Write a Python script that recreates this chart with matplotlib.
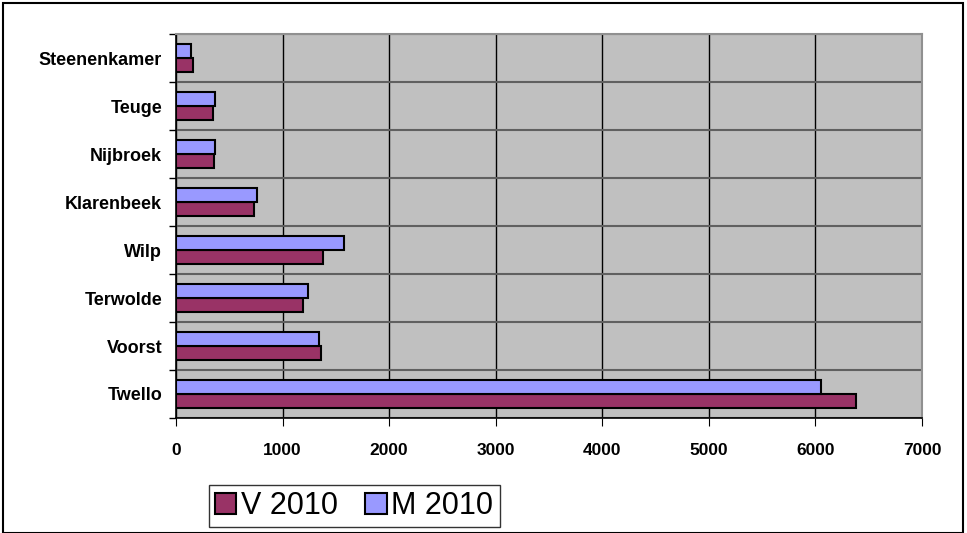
import matplotlib.pyplot as plt
import numpy as np
from matplotlib.patches import Rectangle

plt.rcParams['font.family'] = ['Liberation Sans', 'DejaVu Sans']

places = ["Twello", "Voorst", "Terwolde", "Wilp", "Klarenbeek", "Nijbroek", "Teuge", "Steenenkamer"]
v2010 = [6380, 1360, 1190, 1380, 730, 355, 345, 160]
m2010 = [6050, 1340, 1240, 1575, 760, 365, 365, 140]

fig = plt.figure(figsize=(9.67, 5.33), dpi=100)
ax = fig.add_axes([0.182, 0.2158, 0.7715, 0.7202])
ax.set_facecolor("#C0C0C0")

y = np.arange(len(places))
h = 0.29
ax.barh(y - h / 2, v2010, height=h, color="#993366", edgecolor="black", linewidth=1.5, label="V 2010", zorder=3)
ax.barh(y + h / 2, m2010, height=h, color="#9999FF", edgecolor="black", linewidth=1.5, label="M 2010", zorder=3)

ax.set_xlim(0, 7000)
ax.set_ylim(-0.5, len(places) - 0.5)
ax.set_xticks(np.arange(0, 7001, 1000))
ax.set_yticks(y)
ax.set_yticklabels(places, fontsize=13, fontweight="bold")
ax.set_yticks(np.arange(-0.5, len(places), 1), minor=True)
ax.tick_params(axis="y", which="major", length=0, pad=10)
ax.tick_params(axis="y", which="minor", length=5, width=1, direction="out")
ax.tick_params(axis="x", length=6, direction="out", labelsize=12.5, pad=12)
for lab in ax.get_xticklabels():
    lab.set_fontweight("bold")

ax.grid(axis="x", color="black", linewidth=1, zorder=1)
ax.grid(axis="y", which="minor", color="#606060", linewidth=1.5, zorder=1)
ax.set_axisbelow(True)

for s in ["top", "right"]:
    ax.spines[s].set_color("#909090")
    ax.spines[s].set_linewidth(1.5)
ax.spines["left"].set_linewidth(1.2)
ax.spines["bottom"].set_linewidth(1.2)

leg = fig.legend(loc="lower left", bbox_to_anchor=(0.216, 0.011), ncol=2, fontsize=22,
                 frameon=True, fancybox=False, edgecolor="black", handlelength=0.7,
                 handleheight=0.7, handletextpad=0.15, columnspacing=0.9, borderpad=0.2,
                 borderaxespad=0)
leg.get_frame().set_linewidth(1)

fig.patches.append(Rectangle((0.003, 0.0), 0.993, 0.994, transform=fig.transFigure,
                             fill=False, edgecolor="black", linewidth=1.5))

fig.savefig("out.png", dpi=100)
